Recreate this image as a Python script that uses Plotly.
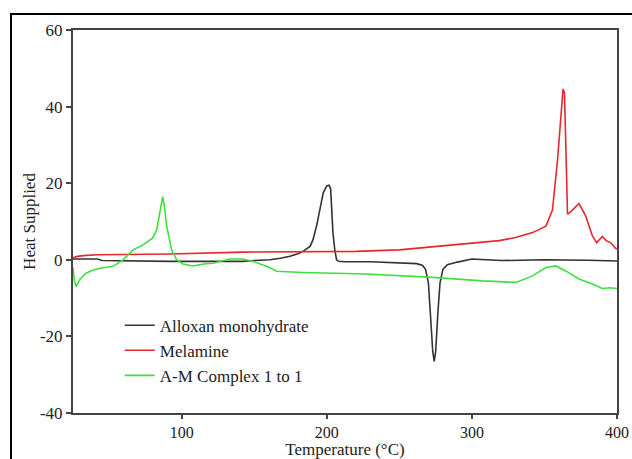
import plotly.graph_objects as go

# Alloxan monohydrate
alloxan_x = [25, 30, 42, 45, 60, 92, 120, 142, 150, 160.8, 168, 174.6, 180, 183.5, 188.4, 190.4, 193, 195.3, 197.5,
             199.9, 201.5, 202.6, 204.2, 205.5, 206.7, 208, 212, 230, 250, 262, 266, 268, 270, 271.5, 273, 274,
             275, 276.5, 278, 280, 283, 290, 300, 320, 350, 380, 400]
alloxan_y = [0.2, 0.2, 0.2, -0.2, -0.3, -0.4, -0.4, -0.4, -0.2, 0.0, 0.4, 0.9, 1.6, 2.2, 3.5, 5.2, 9.0, 13.0, 17.5,
             19.3, 19.5, 18.5, 7.0, 2.5, 0.0, -0.4, -0.5, -0.5, -0.7, -1.0, -1.5, -2.5, -6.0, -15.0, -24.0, -26.5,
             -24.0, -14.0, -6.0, -2.5, -1.3, -0.6, 0.2, -0.2, 0.0, -0.1, -0.3]

# Melamine
melamine_x = [25, 28, 32, 42, 60, 92, 142, 181, 220, 250, 296, 318.7, 330, 341.8, 351, 355.5, 359, 361.3, 362.8,
              363.8, 364.7, 365.9, 368, 373.8, 378.4, 383, 386, 389.9, 392.5, 395.6, 399, 400]
melamine_y = [0.5, 0.9, 1.1, 1.3, 1.4, 1.5, 2.0, 2.1, 2.2, 2.6, 4.1, 5.0, 5.8, 7.1, 8.8, 13.0, 26.0, 39.0, 44.6,
              43.5, 26.0, 11.9, 12.5, 14.7, 11.5, 6.3, 4.5, 6.1, 5.0, 4.5, 3.0, 2.8]

# A-M Complex 1 to 1
complex_x = [25, 26, 27, 30, 34, 38, 43.6, 52.6, 59.5, 66.4, 73.3, 80, 82.7, 85, 86.8, 88, 89.6, 93, 96.5, 100.8,
             107.7, 117, 121.5, 133, 142, 149, 158.5, 165.4, 183.5, 227.2, 273, 307.4, 330.4, 341.8, 351, 357.8,
             364.7, 373.8, 383, 389.9, 395, 400]
complex_y = [-2.0, -5.5, -7.0, -5.0, -3.5, -2.8, -2.2, -1.7, 0.0, 2.6, 3.9, 5.7, 7.8, 13.0, 16.5, 14.0, 8.7, 2.6,
             0.0, -1.1, -1.6, -1.0, -0.9, 0.2, 0.2, -0.4, -1.7, -3.0, -3.3, -3.7, -4.6, -5.5, -5.9, -4.2, -2.0,
             -1.6, -2.9, -5.0, -6.3, -7.5, -7.3, -7.5]

x_ticks = [100, 200, 300, 400]
y_ticks = [-40, -20, 0, 20, 40, 60]
y_tick_text = ["-40", "-20", "0", "20", "40", "60"]

FONT = "Liberation Serif"
TXT = "#222222"

fig = go.Figure()
fig.add_trace(go.Scatter(x=alloxan_x, y=alloxan_y, mode="lines", name="Alloxan monohydrate",
                         line=dict(color="#333333", width=1.6)))
fig.add_trace(go.Scatter(x=melamine_x, y=melamine_y, mode="lines", name="Melamine",
                         line=dict(color="#e8262e", width=1.6)))
fig.add_trace(go.Scatter(x=complex_x, y=complex_y, mode="lines", name="A-M Complex 1 to 1",
                         line=dict(color="#3ee03e", width=1.6)))

fig.update_layout(
    width=632, height=459,
    margin=dict(l=73, r=15, t=30, b=46, autoexpand=False),
    paper_bgcolor="white", plot_bgcolor="white",
    font=dict(family=FONT, size=17, color=TXT),
    showlegend=True,
    legend=dict(x=0.086, y=0.275, xanchor="left", yanchor="top", bgcolor="rgba(0,0,0,0)",
                font=dict(family=FONT, size=17, color=TXT), tracegroupgap=0),
    shapes=[dict(type="rect", xref="paper", yref="paper", x0=-0.114, y0=-0.16, x1=1.05, y1=1.0418,
                 line=dict(color="black", width=2), fillcolor="rgba(0,0,0,0)", layer="below")],
)
fig.update_xaxes(range=[25, 400], tickvals=x_ticks, showgrid=False, zeroline=False, automargin=False,
                 showline=True, mirror=True, linecolor="#444444", linewidth=2,
                 ticks="outside", ticklen=4, tickwidth=2, tickcolor="#444444",
                 tickfont=dict(family=FONT, size=16, color=TXT),
                 title=dict(text="Temperature (°C)", standoff=7, font=dict(family=FONT, size=17, color=TXT)))
fig.update_yaxes(range=[-40, 60], tickvals=y_ticks, ticktext=y_tick_text, showgrid=False, zeroline=False,
                 automargin=False,
                 showline=True, mirror=True, linecolor="#444444", linewidth=2,
                 ticks="outside", ticklen=5, tickwidth=2, tickcolor="#444444",
                 tickfont=dict(family=FONT, size=17, color=TXT),
                 title=dict(text="Heat Supplied", standoff=0, font=dict(family=FONT, size=17, color=TXT)))

fig.write_html("out.html", config={"displayModeBar": False},
               post_script="document.body.style.margin='0';document.body.style.overflow='hidden';")
